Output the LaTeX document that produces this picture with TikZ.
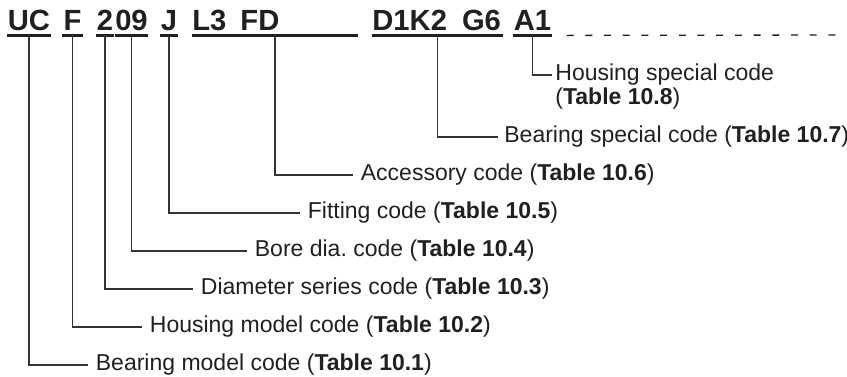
\documentclass[tikz,border=0pt]{standalone}
\usepackage{fontspec}
\setmainfont{Liberation Sans}
\usepackage{tikz}
\usetikzlibrary{calc}
\definecolor{codeInk}{HTML}{231F20}
\definecolor{leadGray}{HTML}{333333}
\tikzset{
  codetxt/.style={font=\fontsize{14.6}{14.6}\selectfont\bfseries,text=codeInk,
    anchor=base,inner xsep=0pt,inner ysep=2.5pt},
  uline/.style={line width=1.35pt,codeInk},
  lead/.style={line width=.6pt,leadGray},
  gloss/.style={font=\fontsize{11.5}{12}\selectfont,text=codeInk,anchor=west,
    inner xsep=3.75pt,inner ysep=1pt},
  tailrule/.style={line width=.65pt,codeInk,dash pattern=on 3.5pt off 5.85pt}
}
\frenchspacing
\begin{document}
\begin{tikzpicture}[x=.5pt,y=-.5pt]
  \useasboundingbox (0,0) rectangle (847,376);
  \node[codetxt,minimum width=22pt] (uc) at (29,30) {UC};
  \node[codetxt,minimum width=10.5pt] (f) at (72.5,30) {F};
  \node[codetxt,minimum width=8pt] (two) at (105,30) {2};
  \node[codetxt,minimum width=15.5pt] (ohnine) at (131.5,30) {09};
  \node[codetxt,minimum width=9pt] (j) at (169,30) {J};
  \node[codetxt,anchor=base west] (fd) at (192,30) {\makebox[82.5pt][l]{L3\hspace{7pt}FD}};
  \node[codetxt,anchor=base west] (dk) at (372,30) {\makebox[65pt][l]{D1K2\hspace{7.5pt}G6}};
  \node[codetxt,minimum width=17.5pt] (a1) at (532.5,30) {A1};
  \foreach \n in {uc,f,two,ohnine,j,fd,dk,a1}
    \draw[uline] (\n.south west) -- (\n.south east);
  \coordinate (tailend) at (847,35);
  \draw[tailrule] ([xshift=7.5pt]a1.south east) -- (tailend);

  \node[gloss] (bm) at (88,365) {Bearing model code (\textbf{Table 10.1})};
  \node[gloss] (hm) at (142,327) {Housing model code (\textbf{Table 10.2})};
  \node[gloss] (ds) at (193,289) {Diameter series code (\textbf{Table 10.3})};
  \node[gloss] (bd) at (247,251) {Bore dia. code (\textbf{Table 10.4})};
  \node[gloss] (fc) at (300,213) {Fitting code (\textbf{Table 10.5})};
  \node[gloss] (ac) at (353,175) {Accessory code (\textbf{Table 10.6})};
  \node[gloss,inner xsep=3pt] (bs) at (498,137) {Bearing special code (\textbf{Table 10.7})};
  \node[gloss,inner xsep=1.5pt] (hs) at (552,75) {Housing special code};
  \node[gloss,inner xsep=1.5pt,anchor=base west] (hstab) at ($(hs.base west)+(0,24)$)
       {(\textbf{Table 10.8})};
  \foreach \c/\t in {uc/bm,f/hm,two/ds,ohnine/bd,j/fc,fd/ac,dk/bs,a1/hs}
    \draw[lead] (\c.south) |- (\t.west);
\end{tikzpicture}
\end{document}
